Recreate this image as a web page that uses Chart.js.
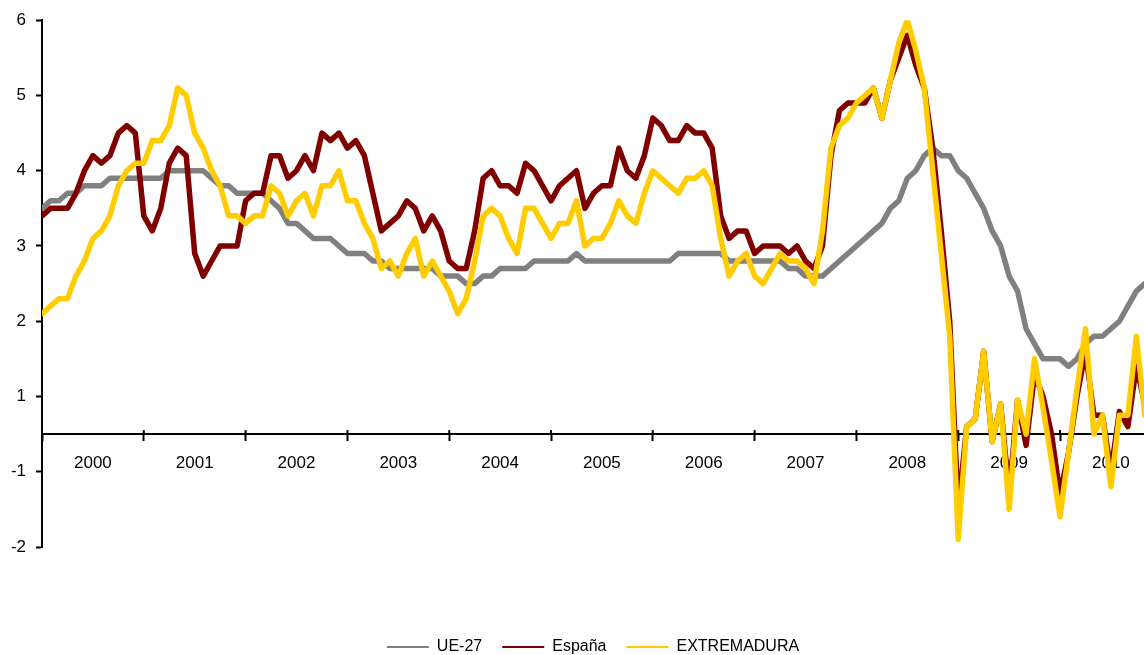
<!DOCTYPE html>
<html lang="es">
<head>
<meta charset="utf-8">
<title>UE-27, España, Extremadura</title>
<script src="https://cdn.jsdelivr.net/npm/chart.js@4.4.1/dist/chart.umd.min.js"></script>
<style>
  html, body { margin: 0; padding: 0; background: #fff; }
  #wrap { position: relative; width: 1144px; height: 655px; }
</style>
</head>
<body>
<div id="wrap"><canvas id="ipcChart"></canvas></div>
<script>
// Datos mensuales, enero 2000 en adelante
const years = ["2000", "2001", "2002", "2003", "2004", "2005", "2006", "2007", "2008", "2009", "2010"];

const ue27 = [
  3.5, 3.6, 3.6, 3.7, 3.7, 3.8, 3.8, 3.8, 3.9, 3.9, 3.9, 3.9,
  3.9, 3.9, 3.9, 4.0, 4.0, 4.0, 4.0, 4.0, 3.9, 3.8, 3.8, 3.7,
  3.7, 3.7, 3.7, 3.6, 3.5, 3.3, 3.3, 3.2, 3.1, 3.1, 3.1, 3.0,
  2.9, 2.9, 2.9, 2.8, 2.8, 2.7, 2.7, 2.7, 2.7, 2.7, 2.7, 2.6,
  2.6, 2.6, 2.5, 2.5, 2.6, 2.6, 2.7, 2.7, 2.7, 2.7, 2.8, 2.8,
  2.8, 2.8, 2.8, 2.9, 2.8, 2.8, 2.8, 2.8, 2.8, 2.8, 2.8, 2.8,
  2.8, 2.8, 2.8, 2.9, 2.9, 2.9, 2.9, 2.9, 2.9, 2.8, 2.8, 2.8,
  2.8, 2.8, 2.8, 2.8, 2.7, 2.7, 2.6, 2.6, 2.6, 2.7, 2.8, 2.9,
  3.0, 3.1, 3.2, 3.3, 3.5, 3.6, 3.9, 4.0, 4.2, 4.3, 4.2, 4.2,
  4.0, 3.9, 3.7, 3.5, 3.2, 3.0, 2.6, 2.4, 1.9, 1.7, 1.5, 1.5,
  1.5, 1.4, 1.5, 1.7, 1.8, 1.8, 1.9, 2.0, 2.2, 2.4, 2.5
];

const espana = [
  3.4, 3.5, 3.5, 3.5, 3.7, 4.0, 4.2, 4.1, 4.2, 4.5, 4.6, 4.5,
  3.4, 3.2, 3.5, 4.1, 4.3, 4.2, 2.9, 2.6, 2.8, 3.0, 3.0, 3.0,
  3.6, 3.7, 3.7, 4.2, 4.2, 3.9, 4.0, 4.2, 4.0, 4.5, 4.4, 4.5,
  4.3, 4.4, 4.2, 3.7, 3.2, 3.3, 3.4, 3.6, 3.5, 3.2, 3.4, 3.2,
  2.8, 2.7, 2.7, 3.2, 3.9, 4.0, 3.8, 3.8, 3.7, 4.1, 4.0, 3.8,
  3.6, 3.8, 3.9, 4.0, 3.5, 3.7, 3.8, 3.8, 4.3, 4.0, 3.9, 4.2,
  4.7, 4.6, 4.4, 4.4, 4.6, 4.5, 4.5, 4.3, 3.4, 3.1, 3.2, 3.2,
  2.9, 3.0, 3.0, 3.0, 2.9, 3.0, 2.8, 2.7, 3.0, 4.2, 4.8, 4.9,
  4.9, 4.9, 5.1, 4.7, 5.2, 5.5, 5.8, 5.4, 5.1, 4.3, 3.2, 2.0,
  -1.5, 0.2, 0.4, 1.6, -0.2, 0.8, -1.3, 0.9, -0.3, 1.3, 1.0, 0.0,
  -1.3, -0.5, 1.0, 1.6, 0.5, 0.5, -1.0, 0.6, 0.2, 1.4, 0.8
];

const extremadura = [
  2.1, 2.2, 2.3, 2.3, 2.6, 2.8, 3.1, 3.2, 3.4, 3.8, 4.0, 4.1,
  4.1, 4.4, 4.4, 4.6, 5.1, 5.0, 4.5, 4.3, 4.0, 3.8, 3.4, 3.4,
  3.3, 3.4, 3.4, 3.8, 3.7, 3.4, 3.6, 3.7, 3.4, 3.8, 3.8, 4.0,
  3.6, 3.6, 3.3, 3.1, 2.7, 2.8, 2.6, 2.9, 3.1, 2.6, 2.8, 2.6,
  2.4, 2.1, 2.3, 2.8, 3.4, 3.5, 3.4, 3.1, 2.9, 3.5, 3.5, 3.3,
  3.1, 3.3, 3.3, 3.6, 3.0, 3.1, 3.1, 3.3, 3.6, 3.4, 3.3, 3.7,
  4.0, 3.9, 3.8, 3.7, 3.9, 3.9, 4.0, 3.8, 3.1, 2.6, 2.8, 2.9,
  2.6, 2.5, 2.7, 2.9, 2.8, 2.8, 2.7, 2.5, 3.2, 4.3, 4.6, 4.7,
  4.9, 5.0, 5.1, 4.7, 5.2, 5.7, 6.0, 5.6, 5.1, 4.0, 2.9, 1.8,
  -1.9, 0.2, 0.4, 1.6, -0.2, 0.8, -1.5, 0.9, 0.0, 1.5, 0.7, -0.7,
  -1.6, -0.5, 1.1, 1.9, 0.0, 0.5, -1.2, 0.5, 0.5, 1.8, 0.5
];

// etiquetas del eje Y, de abajo arriba (el 0 no aparece)
const yTickLabels = ["-2", "-1", "1", "2", "3", "4", "5", "6"];

// En el original el tramo entre 1 y -1 ocupa el mismo alto que una unidad
function toAxis(v) {
  if (v >= 1) return v;
  if (v >= -1) return 0.5 + v / 2;
  return v + 1;
}

function toPoints(arr) {
  return arr.map((v, i) => ({ x: i, y: toAxis(v) }));
}

Chart.defaults.font.family = "'Liberation Sans', Arial, sans-serif";
Chart.defaults.color = "#000";

// marcas del eje X que cruzan la línea
const crossTicks = {
  id: "crossTicks",
  beforeDatasetsDraw(chart) {
    const xs = chart.scales.x;
    const y0 = chart.scales.y.getPixelForValue(0.5);
    const ctx = chart.ctx;
    ctx.save();
    ctx.strokeStyle = "#000";
    ctx.lineWidth = 2;
    for (let k = 1; k < years.length; k++) {
      const px = xs.getPixelForValue(k * 12);
      ctx.beginPath();
      ctx.moveTo(px, y0 - 4);
      ctx.lineTo(px, y0);
      ctx.stroke();
    }
    ctx.restore();
  }
};

function serie(label, values, color, order) {
  return {
    label: label,
    data: toPoints(values),
    xAxisID: "x",
    borderColor: color,
    backgroundColor: color,
    borderWidth: 5.5,
    pointRadius: 0,
    pointHoverRadius: 0,
    tension: 0,
    borderJoinStyle: "round",
    borderCapStyle: "round",
    fill: false,
    order: order
  };
}

const ctx = document.getElementById("ipcChart").getContext("2d");
new Chart(ctx, {
  type: "line",
  data: {
    datasets: [
      serie("UE-27", ue27, "#808080", 3),
      serie("España", espana, "#800000", 2),
      serie("EXTREMADURA", extremadura, "#FFCC00", 1)
    ]
  },
  options: {
    responsive: true,
    maintainAspectRatio: false,
    animation: false,
    layout: { padding: { top: 20, bottom: -10, left: 0, right: 0 } },
    plugins: {
      tooltip: { enabled: false },
      legend: {
        position: "bottom",
        fullSize: false,
        labels: {
          boxWidth: 42,
          boxHeight: 2,
          padding: 20,
          color: "#000",
          font: { size: 16 },
          generateLabels: function (chart) {
            return chart.data.datasets.map((ds, i) => ({
              text: ds.label,
              fillStyle: ds.borderColor,
              strokeStyle: ds.borderColor,
              lineWidth: 0,
              hidden: false,
              datasetIndex: i
            }));
          }
        }
      }
    },
    scales: {
      x: {
        type: "linear",
        min: 0,
        max: 129.9,
        position: { y: 0.5 },
        afterBuildTicks: function (axis) {
          const ticks = [];
          years.forEach((yr, k) => {
            ticks.push({ value: k * 12 });
            ticks.push({ value: k * 12 + 6 });
          });
          axis.ticks = ticks;
        },
        ticks: {
          autoSkip: false,
          maxRotation: 0,
          padding: 13,
          font: { size: 17 },
          color: "#000",
          callback: (value) => (value % 12 === 6 ? years[(value - 6) / 12] : "")
        },
        grid: {
          drawOnChartArea: false,
          tickLength: 6,
          tickWidth: 2,
          tickColor: (c) => (c.tick && c.tick.value % 12 === 0 ? "#000" : "rgba(0,0,0,0)")
        },
        border: { color: "#000", width: 2 }
      },
      xPad: {
        axis: "x",
        type: "linear",
        position: "bottom",
        grid: { display: false, drawTicks: false },
        border: { display: false },
        ticks: { display: false },
        afterFit: function (s) { s.height = 72; }
      },
      y: {
        min: -1,
        max: 6,
        ticks: {
          stepSize: 1,
          padding: 10,
          font: { size: 17 },
          color: "#000",
          callback: (value) => yTickLabels[value + 1]
        },
        grid: {
          drawOnChartArea: false,
          tickLength: 6,
          tickWidth: 2,
          tickColor: "#000"
        },
        border: { color: "#000", width: 2 },
        afterFit: function (s) { s.width = 42; }
      }
    }
  },
  plugins: [crossTicks]
});
</script>
</body>
</html>
